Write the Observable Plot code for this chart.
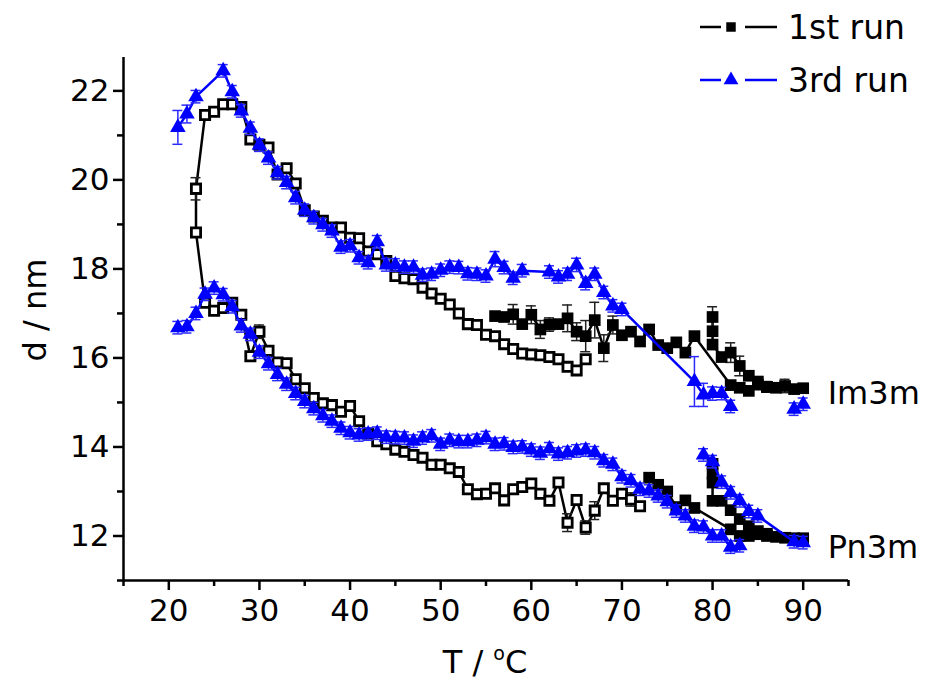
<!DOCTYPE html>
<html><head><meta charset="utf-8">
<script src="https://cdn.jsdelivr.net/npm/d3@7"></script>
<script src="https://cdn.jsdelivr.net/npm/@observablehq/plot@0.6"></script>
<style>
body{margin:0;background:#fff;}
#wrap{position:relative;width:927px;height:687px;font-family:"DejaVu Sans",sans-serif;color:#000;}
.t{position:absolute;white-space:nowrap;line-height:1;}
#legend{position:absolute;left:0;top:0;}
</style></head><body><div id="wrap"></div><script>
// ---- tick values ----
const xMajor = [20, 30, 40, 50, 60, 70, 80, 90];
const xMinor = [15, 25, 35, 45, 55, 65, 75, 85, 95];
const yMajor = [12, 14, 16, 18, 20, 22];
const yMinor = [11, 13, 15, 17, 19, 21];

// ---- 1st run (black) ----
// Im3m, open squares
const im1OpenT = [23, 24, 25, 26, 27, 28, 29, 30, 31, 32, 33, 34, 35, 36, 37, 38, 39, 40, 41, 42, 43, 44, 45, 46, 47, 48, 49, 50, 51, 52, 53, 54, 55, 56, 57, 58, 59, 60, 61, 62, 63, 64, 65, 66];
const im1OpenD = [19.8, 21.46, 21.53, 21.7, 21.7, 21.64, 20.91, 20.79, 20.73, 20.12, 20.26, 19.92, 19.32, 19.18, 19.08, 18.93, 18.93, 18.7, 18.69, 18.39, 18.33, 18.18, 17.84, 17.79, 17.77, 17.58, 17.45, 17.33, 17.2, 17.0, 16.76, 16.74, 16.52, 16.49, 16.31, 16.2, 16.1, 16.08, 16.06, 16.02, 15.97, 15.8, 15.72, 15.97];
// Pn3m, open squares
const pn1OpenT = [23, 23, 24, 25, 26, 27, 28, 29, 30, 31, 32, 33, 34, 35, 36, 37, 38, 39, 40, 41, 42, 43, 44, 45, 46, 47, 48, 49, 50, 51, 52, 53, 54, 55, 56, 57, 58, 59, 60, 61, 62, 63, 64, 65, 66, 67, 68, 69, 70, 71, 72];
const pn1OpenD = [19.8, 18.82, 17.24, 17.06, 17.12, 17.24, 16.97, 16.04, 16.59, 16.16, 15.9, 15.88, 15.52, 15.32, 15.1, 14.98, 14.94, 14.79, 14.92, 14.58, 14.3, 14.13, 14.06, 13.94, 13.89, 13.82, 13.76, 13.6, 13.6, 13.52, 13.44, 13.05, 12.94, 12.95, 13.07, 12.8, 13.05, 13.1, 13.18, 12.95, 12.79, 13.2, 12.3, 12.81, 12.19, 12.57, 13.07, 12.79, 12.95, 12.82, 12.67];
// Im3m, filled squares
const im1FillT = [56, 57, 58, 59, 60, 61, 62, 63, 64, 65, 66, 67, 68, 69, 70, 71, 72, 73, 74, 75, 76, 77, 78, 82, 83, 84, 85, 86, 87, 88, 89, 90];
const im1FillD = [16.94, 16.92, 16.98, 16.76, 16.97, 16.64, 16.75, 16.76, 16.89, 16.59, 16.49, 16.85, 16.22, 16.74, 16.51, 16.59, 16.37, 16.64, 16.29, 16.22, 16.35, 16.12, 16.49, 15.39, 15.33, 15.26, 15.4, 15.35, 15.33, 15.37, 15.3, 15.32];
const im1JumpT = [80, 80, 80, 81, 82, 83, 84, 85, 86];
const im1JumpD = [16.92, 16.6, 16.3, 16.02, 16.12, 15.82, 15.6, 15.47, 15.35];
// Pn3m, filled squares
const pn1FillT = [73, 74, 75, 76, 77, 78, 82, 83, 84, 85, 86, 87, 88, 89, 90];
const pn1FillD = [13.31, 13.15, 13.0, 12.65, 12.8, 12.63, 12.15, 12.0, 12.0, 12.04, 12.0, 11.98, 11.96, 11.95, 11.95];
const pn1JumpT = [80, 80, 80, 80, 81, 82, 83, 84, 85, 86];
const pn1JumpD = [13.62, 13.4, 13.2, 12.79, 12.79, 12.58, 12.38, 12.22, 12.11, 12.05];

// ---- 3rd run (blue triangles) ----
const im3T = [21, 22, 23, 26, 27, 28, 29, 30, 31, 32, 33, 34, 35, 36, 37, 38, 39, 40, 41, 42, 43, 44, 45, 46, 47, 48, 49, 50, 51, 52, 53, 54, 55, 56, 57, 58, 59, 62, 63, 64, 65, 66, 67, 68, 69, 70, 78, 79, 80, 81, 82];
const im3D = [21.18, 21.48, 21.87, 22.45, 21.98, 21.55, 21.16, 20.78, 20.49, 20.16, 19.94, 19.6, 19.32, 19.15, 18.99, 18.85, 18.49, 18.52, 18.25, 18.14, 18.61, 18.09, 18.09, 18.04, 18.04, 17.86, 17.88, 17.97, 18.04, 18.03, 17.89, 17.88, 17.84, 18.22, 18.03, 17.79, 17.96, 17.93, 17.82, 17.88, 18.09, 17.67, 17.88, 17.47, 17.17, 17.09, 15.47, 15.17, 15.2, 15.2, 14.91];
const im3EndT = [89, 90];
const im3EndD = [14.85, 14.96];
const pn3T = [21, 22, 23, 24, 25, 26, 27, 28, 29, 30, 31, 32, 33, 34, 35, 36, 37, 38, 39, 40, 41, 42, 43, 44, 45, 46, 47, 48, 49, 50, 51, 52, 53, 54, 55, 56, 57, 58, 59, 60, 61, 62, 63, 64, 65, 66, 67, 68, 69, 70, 71, 72, 73, 74, 75, 76, 77, 78, 79, 80, 81, 82, 83];
const pn3D = [16.68, 16.7, 17.0, 17.43, 17.57, 17.42, 17.15, 16.72, 16.53, 16.13, 15.87, 15.63, 15.41, 15.2, 15.02, 14.86, 14.7, 14.58, 14.42, 14.32, 14.27, 14.29, 14.31, 14.22, 14.21, 14.2, 14.13, 14.2, 14.25, 14.06, 14.15, 14.12, 14.12, 14.15, 14.21, 14.06, 14.07, 13.99, 14.0, 13.93, 13.86, 13.96, 13.84, 13.87, 13.91, 13.93, 13.87, 13.69, 13.61, 13.33, 13.24, 13.05, 13.01, 12.9, 12.77, 12.56, 12.45, 12.22, 12.2, 12.0, 12.0, 11.75, 11.78];
const pn3HiT = [79, 80, 81, 82, 83, 84, 85, 89, 90];
const pn3HiD = [13.82, 13.67, 13.21, 12.97, 12.79, 12.55, 12.45, 11.87, 11.85];

// ---- error bars (half-widths) ----
const blackErrT = [23, 30, 58, 60, 61, 62, 64, 65, 66, 67, 68, 69, 73, 80, 82, 83, 86, 88, 64, 66, 67, 71];
const blackErrD = [19.8, 16.59, 16.98, 16.97, 16.64, 16.75, 16.89, 16.59, 16.49, 16.85, 16.22, 16.74, 16.64, 16.92, 16.12, 15.82, 15.35, 15.37, 12.3, 12.19, 12.57, 12.82];
const blackErrE = [0.25, 0.15, 0.22, 0.2, 0.2, 0.15, 0.3, 0.2, 0.35, 0.4, 0.3, 0.2, 0.1, 0.23, 0.22, 0.22, 0.12, 0.15, 0.2, 0.15, 0.2, 0.15];
const blueErrT = [21, 22, 56, 65, 78, 79, 80];
const blueErrD = [21.18, 21.48, 18.22, 18.09, 15.47, 15.17, 15.2];
const blueErrE = [0.38, 0.2, 0.17, 0.15, 0.56, 0.26, 0.15];
const blueStem = 0.14;

// ---- annotations ----
const phaseLabels = ["Im3m", "Pn3m"];
const phaseT = [92.7, 92.7];
const phaseD = [15.2, 11.73];

const pts = (T, D) => T.map((t, i) => ({T: t, d: D[i]}));
const BLK = "#000000", BLU = "#0000ff";

const blackOpen = [pts(im1OpenT, im1OpenD), pts(pn1OpenT, pn1OpenD)];
const blackFill = [pts(im1FillT, im1FillD), pts(im1JumpT, im1JumpD), pts(pn1FillT, pn1FillD), pts(pn1JumpT, pn1JumpD)];
const blueSer = [pts(im3T, im3D), pts(im3EndT, im3EndD), pts(pn3T, pn3D), pts(pn3HiT, pn3HiD)];

const blackErr = blackErrT.map((t, i) => ({T: t, d: blackErrD[i], e: blackErrE[i]}));
const blueOverride = new Map(blueErrT.map((t, i) => [t + "|" + blueErrD[i], blueErrE[i]]));
const blueErr = blueSer.flat().map(p => ({T: p.T, d: p.d, e: blueOverride.get(p.T + "|" + p.d) ?? blueStem}));

const errMarks = (data, color, w) => [
  Plot.ruleX(data, {x: "T", y1: p => p.d - p.e, y2: p => p.d + p.e, stroke: color, strokeWidth: w}),
  Plot.ruleY(data, {y: p => p.d + p.e, x1: p => p.T - 0.55, x2: p => p.T + 0.55, stroke: color, strokeWidth: w}),
  Plot.ruleY(data, {y: p => p.d - p.e, x1: p => p.T - 0.55, x2: p => p.T + 0.55, stroke: color, strokeWidth: w})
];

const chart = Plot.plot({
  width: 927, height: 687,
  marginLeft: 123, marginRight: 79, marginTop: 57, marginBottom: 107,
  x: {domain: [15, 95]},
  y: {domain: [11, 22.75]},
  style: {fontFamily: "DejaVu Sans, sans-serif", background: "white", color: "black", overflow: "visible"},
  marks: [
    Plot.axisX({ticks: xMajor, tickSize: 10, tickPadding: 8, fontSize: 31, label: null, strokeWidth: 2.5, tickFormat: d => String(d)}),
    Plot.axisX({ticks: xMinor, tickSize: 6, text: null, label: null, strokeWidth: 2.5}),
    Plot.axisY({ticks: yMajor, tickSize: 10, tickPadding: 4, fontSize: 31, label: null, strokeWidth: 2.5, tickFormat: d => String(d)}),
    Plot.axisY({ticks: yMinor, tickSize: 6, text: null, label: null, strokeWidth: 2.5}),
    Plot.ruleX([15], {strokeWidth: 2.5}),
    Plot.ruleY([11], {strokeWidth: 2.5}),
    // 1st run
    ...blackOpen.map(s => Plot.line(s, {x: "T", y: "d", stroke: BLK, strokeWidth: 2.5})),
    ...blackFill.map(s => Plot.line(s, {x: "T", y: "d", stroke: BLK, strokeWidth: 2.5})),
    ...errMarks(blackErr, "#222", 1.5),
    ...blackFill.map(s => Plot.dot(s, {x: "T", y: "d", symbol: "square", r: 6.6, fill: BLK, stroke: "none"})),
    ...blackOpen.map(s => Plot.dot(s, {x: "T", y: "d", symbol: "square", r: 5.2, fill: "white", stroke: BLK, strokeWidth: 2.8})),
    // 3rd run
    ...blueSer.map(s => Plot.line(s, {x: "T", y: "d", stroke: BLU, strokeWidth: 2.5})),
    ...errMarks(blueErr, "#2a2aff", 1.5),
    ...blueSer.map(s => Plot.dot(s, {x: "T", y: "d", symbol: "triangle", r: 5.8, fill: BLU, stroke: "none"})),
    // phase labels
    Plot.text(phaseLabels, {x: (d, i) => phaseT[i], y: (d, i) => phaseD[i], text: d => d, textAnchor: "start", lineAnchor: "middle", fontSize: 32, fill: BLK})
  ]
});

const wrap = document.getElementById("wrap");
wrap.appendChild(chart);

// axis titles
const yt = document.createElement("div");
yt.className = "t";
yt.style.cssText = "left:35px;top:310px;font-size:32px;transform:translate(-50%,-50%) rotate(-90deg);";
yt.textContent = "d / nm";
wrap.appendChild(yt);
const xt = document.createElement("div");
xt.className = "t";
xt.style.cssText = "left:485px;top:662px;font-size:32px;transform:translate(-50%,-50%);";
xt.innerHTML = "T / <span style=\"font-size:19px;position:relative;top:-13px\">o</span>C";
wrap.appendChild(xt);

// legend
const ns = "http://www.w3.org/2000/svg";
const lg = document.createElementNS(ns, "svg");
lg.setAttribute("id", "legend");
lg.setAttribute("width", 927); lg.setAttribute("height", 110);
const legendItems = [
  {label: "1st run", color: BLK, sym: "square", y: 27},
  {label: "3rd run", color: BLU, sym: "triangle", y: 80}
];
for (const it of legendItems) {
  for (const [a, b] of [[700, 721], [745, 777]]) {
    const l = document.createElementNS(ns, "line");
    l.setAttribute("x1", a); l.setAttribute("x2", b);
    l.setAttribute("y1", it.y); l.setAttribute("y2", it.y);
    l.setAttribute("stroke", it.color); l.setAttribute("stroke-width", 2.5);
    lg.appendChild(l);
  }
  const p = document.createElementNS(ns, "path");
  p.setAttribute("transform", `translate(731,${it.y})`);
  p.setAttribute("d", d3.symbol(it.sym === "square" ? d3.symbolSquare : d3.symbolTriangle, it.sym === "square" ? 90 : 95)());
  p.setAttribute("fill", it.color);
  lg.appendChild(p);
  const t = document.createElementNS(ns, "text");
  t.setAttribute("x", 788); t.setAttribute("y", it.y + 12);
  t.setAttribute("font-size", 33);
  t.setAttribute("font-family", "DejaVu Sans, sans-serif");
  t.textContent = it.label;
  lg.appendChild(t);
}
wrap.appendChild(lg);
</script></body></html>
